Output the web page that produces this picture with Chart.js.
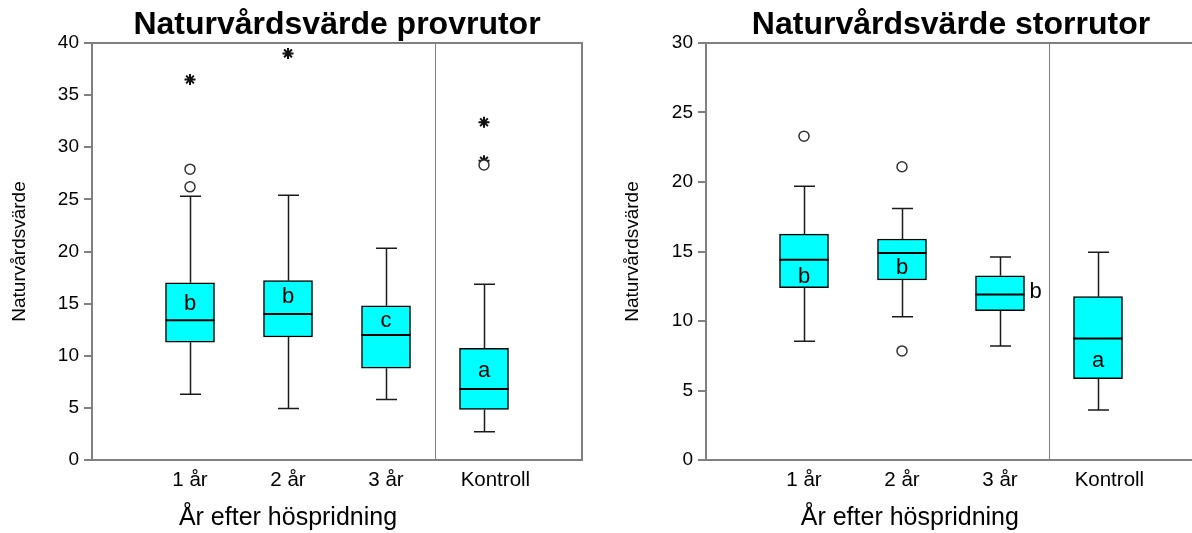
<!DOCTYPE html>
<html>
<head>
<meta charset="utf-8">
<script src="https://cdn.jsdelivr.net/npm/chart.js@4.4.0/dist/chart.umd.min.js"></script>
<style>
    html, body { margin: 0; padding: 0; background: #fff; }
    #wrap { position: relative; width: 1192px; height: 533px; overflow: hidden; }
    .panel { position: absolute; top: 0; height: 533px; }
    #left-panel { left: 0; width: 596px; }
    #right-panel { left: 596px; width: 612px; }
</style>
</head>
<body>
<div id="wrap">
    <div class="panel" id="left-panel"><canvas id="chart-prov" width="596" height="533"></canvas></div>
    <div class="panel" id="right-panel"><canvas id="chart-stor" width="612" height="533"></canvas></div>
</div>
<script>
// Axis labels (empty slots at both ends give the spacing of the original)
const xLabels = ["", "1 år", "2 år", "3 år", "Kontroll", ""];
const categories = ["1 år", "2 år", "3 år", "Kontroll"];

// Naturvårdsvärde provrutor
const provMin = [6.3, 4.95, 5.8, 2.7];
const provQ1 = [11.3, 11.8, 8.8, 4.85];
const provMedian = [13.4, 14.0, 12.0, 6.8];
const provQ3 = [17.0, 17.2, 14.8, 10.7];
const provMax = [25.3, 25.4, 20.3, 16.85];
const provLetters = ["b", "b", "c", "a"];
const provLetterY = [15.0, 15.6, 13.3, 8.5];
const provCircleCats = ["1 år", "1 år", "Kontroll"];
const provCircleVals = [27.9, 26.2, 28.3];
const provStarCats = ["1 år", "2 år", "Kontroll", "Kontroll"];
const provStarVals = [36.5, 39.0, 32.4, 28.7];
const provYMax = 40;

// Naturvårdsvärde storrutor
const storMin = [8.55, 10.3, 8.2, 3.6];
const storQ1 = [12.4, 12.95, 10.75, 5.85];
const storMedian = [14.4, 14.9, 11.9, 8.75];
const storQ3 = [16.25, 15.9, 13.25, 11.75];
const storMax = [19.7, 18.1, 14.6, 14.95];
const storLetters = ["b", "b", "b", "a"];
const storLetterY = [13.2, 13.8, 12.1, 7.15];
const storLetterBeside = [false, false, true, false];
const storCircleCats = ["1 år", "2 år", "2 år"];
const storCircleVals = [23.3, 21.1, 7.85];
const storStarCats = [];
const storStarVals = [];
const storYMax = 30;

const FONT = "'Liberation Sans', Arial, sans-serif";
const AXIS_GREY = "#808080";

// Whiskers, medians, letters, frame and titles
function boxPlugin(s) {
    return {
        id: "boxPlot",
        beforeDatasetsDraw(chart) {
            const { ctx, chartArea: a, scales: { x } } = chart;
            ctx.save();
            ctx.strokeStyle = AXIS_GREY;
            ctx.lineWidth = 2;
            ctx.beginPath();
            ctx.moveTo(a.left, a.top);
            ctx.lineTo(a.right, a.top);
            ctx.lineTo(a.right, a.bottom);
            ctx.stroke();
            // divider before Kontroll
            const dx = Math.round(x.getPixelForValue(3.5)) + 0.5;
            ctx.lineWidth = 1;
            ctx.beginPath();
            ctx.moveTo(dx, a.top);
            ctx.lineTo(dx, a.bottom);
            ctx.stroke();
            ctx.restore();
        },
        afterDatasetsDraw(chart) {
            const { ctx, scales: { x, y } } = chart;
            const bars = chart.getDatasetMeta(0).data;
            ctx.save();
            categories.forEach((c, i) => {
                const bar = bars[i + 1];
                const cx = Math.round(x.getPixelForValue(i + 1)) + 0.5;
                const half = bar.width / 2;
                const yMin = y.getPixelForValue(s.min[i]);
                const yMax = y.getPixelForValue(s.max[i]);
                const yQ1 = y.getPixelForValue(s.q1[i]);
                const yQ3 = y.getPixelForValue(s.q3[i]);
                const yMed = y.getPixelForValue(s.median[i]);

                ctx.strokeStyle = "#1a1a1a";
                ctx.lineWidth = 1.5;
                ctx.beginPath();
                ctx.moveTo(cx, yQ3); ctx.lineTo(cx, yMax);
                ctx.moveTo(cx - 10.5, yMax); ctx.lineTo(cx + 10.5, yMax);
                ctx.moveTo(cx, yQ1); ctx.lineTo(cx, yMin);
                ctx.moveTo(cx - 10.5, yMin); ctx.lineTo(cx + 10.5, yMin);
                ctx.stroke();

                ctx.strokeStyle = "#000";
                ctx.lineWidth = 2;
                ctx.beginPath();
                ctx.moveTo(bar.x - half, yMed); ctx.lineTo(bar.x + half, yMed);
                ctx.stroke();

                ctx.fillStyle = "#000";
                ctx.font = "22px " + FONT;
                ctx.textBaseline = "middle";
                const ly = y.getPixelForValue(s.letterY[i]);
                if (s.beside && s.beside[i]) {
                    ctx.textAlign = "left";
                    ctx.fillText(s.letters[i], bar.x + half + 5, ly);
                } else {
                    ctx.textAlign = "center";
                    ctx.fillText(s.letters[i], bar.x, ly);
                }
            });
            ctx.restore();
        },
        afterDraw(chart) {
            const { ctx, chartArea: a, scales: { x } } = chart;
            ctx.save();
            ctx.fillStyle = "#000";
            ctx.textAlign = "center";
            ctx.textBaseline = "alphabetic";
            ctx.font = "bold 32px " + FONT;
            ctx.fillText(s.title, (a.left + a.right) / 2, 34);
            ctx.font = "25px " + FONT;
            ctx.fillText("År efter höspridning", x.getPixelForValue(s.xTitleAt), a.bottom + 65);
            ctx.restore();
        }
    };
}

function makeBoxChart(canvasId, s) {
    const boxes = xLabels.map(l => {
        const i = categories.indexOf(l);
        return i < 0 ? null : [s.q1[i], s.q3[i]];
    });
    const circles = s.circleCats.map((c, i) => ({ x: c, y: s.circleVals[i] }));
    const stars = s.starCats.map((c, i) => ({ x: c, y: s.starVals[i] }));

    return new Chart(document.getElementById(canvasId), {
        type: "bar",
        data: {
            labels: xLabels,
            datasets: [
                {
                    data: boxes,
                    backgroundColor: "#00FFFF",
                    borderColor: "#000",
                    borderWidth: 1.5,
                    borderSkipped: false,
                    barThickness: 49
                },
                {
                    type: "line",
                    data: circles,
                    showLine: false,
                    pointStyle: "circle",
                    pointRadius: 5,
                    pointBackgroundColor: "#fff",
                    pointBorderColor: "#333",
                    pointBorderWidth: 1.5
                },
                {
                    type: "line",
                    data: stars,
                    showLine: false,
                    pointStyle: "star",
                    pointRadius: 5.5,
                    pointBorderColor: "#111",
                    pointBorderWidth: 2
                }
            ]
        },
        options: {
            responsive: false,
            animation: false,
            layout: { padding: { top: 43, right: s.padRight, left: 0, bottom: 0 } },
            plugins: { legend: { display: false }, tooltip: { enabled: false } },
            scales: {
                x: {
                    type: "category",
                    offset: false,
                    grid: { display: false, drawTicks: false },
                    border: { display: true, color: AXIS_GREY, width: 2 },
                    ticks: {
                        font: { family: FONT, size: 20.5 },
                        color: "#000",
                        padding: 8,
                        autoSkip: false,
                        maxRotation: 0,
                        // the control label sits a little right of its box in the original
                        callback: (v, i) => xLabels[i] === "Kontroll" ? "    Kontroll" : xLabels[i]
                    },
                    afterFit: scale => { scale.height = 73; }
                },
                y: {
                    min: 0,
                    max: s.yMax,
                    grid: { drawOnChartArea: false, drawTicks: true, tickLength: 8, color: AXIS_GREY, lineWidth: 2 },
                    border: { display: true, color: AXIS_GREY, width: 2 },
                    ticks: { stepSize: 5, font: { family: FONT, size: 19 }, color: "#000", padding: 5 },
                    title: {
                        display: true,
                        text: "Naturvårdsvärde",
                        font: { family: FONT, size: 19 },
                        color: "#000",
                        padding: { top: s.titlePad, bottom: 0 }
                    },
                    afterFit: scale => { scale.width = s.axisWidth; }
                }
            }
        },
        plugins: [boxPlugin(s)]
    });
}

makeBoxChart("chart-prov", {
    title: "Naturvårdsvärde provrutor",
    min: provMin, q1: provQ1, median: provMedian, q3: provQ3, max: provMax,
    letters: provLetters, letterY: provLetterY, beside: null,
    circleCats: provCircleCats, circleVals: provCircleVals,
    starCats: provStarCats, starVals: provStarVals,
    yMax: provYMax, axisWidth: 92, padRight: 14, titlePad: 8, xTitleAt: 2.0
});

makeBoxChart("chart-stor", {
    title: "Naturvårdsvärde storrutor",
    min: storMin, q1: storQ1, median: storMedian, q3: storQ3, max: storMax,
    letters: storLetters, letterY: storLetterY, beside: storLetterBeside,
    circleCats: storCircleCats, circleVals: storCircleVals,
    starCats: storStarCats, starVals: storStarVals,
    yMax: storYMax, axisWidth: 110, padRight: 12, titlePad: 25, xTitleAt: 2.08
});
</script>
</body>
</html>
